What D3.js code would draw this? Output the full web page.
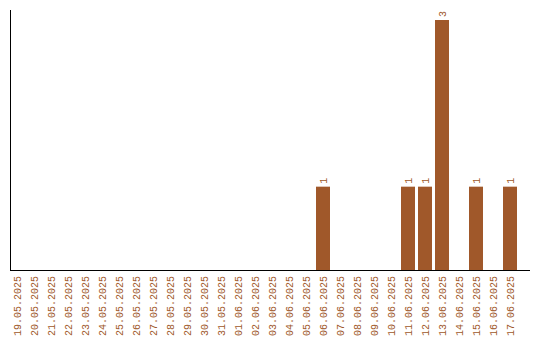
<!DOCTYPE html>
<html>
<head>
<meta charset="utf-8">
<script src="https://cdn.jsdelivr.net/npm/d3@7"></script>
<style>
  body { margin: 0; background: #fff; }
  text { font-family: "Liberation Mono", monospace; font-size: 10px; }
</style>
</head>
<body>
<script>
var dates = [
  '19.05.2025', '20.05.2025', '21.05.2025', '22.05.2025', '23.05.2025',
  '24.05.2025', '25.05.2025', '26.05.2025', '27.05.2025', '28.05.2025',
  '29.05.2025', '30.05.2025', '31.05.2025', '01.06.2025', '02.06.2025',
  '03.06.2025', '04.06.2025', '05.06.2025', '06.06.2025', '07.06.2025',
  '08.06.2025', '09.06.2025', '10.06.2025', '11.06.2025', '12.06.2025',
  '13.06.2025', '14.06.2025', '15.06.2025', '16.06.2025', '17.06.2025'
];
var counts = [
  0, 0, 0, 0, 0, 0, 0, 0, 0, 0,
  0, 0, 0, 0, 0, 0, 0, 0, 1, 0,
  0, 0, 0, 1, 1, 3, 0, 1, 0, 1
];

var width = 540;
var height = 340;
var color = '#a0582a';

var x = d3.scaleBand()
    .domain(dates)
    .range([10, 517])
    .paddingInner(3 / 17)
    .paddingOuter(0);

var y = d3.scaleLinear()
    .domain([0, 3])
    .range([270, 20]);

var svg = d3.select('body')
  .append('svg')
    .attr('width', width)
    .attr('height', height);

// only days with a count get a bar
var barData = dates.map(function(d, i) { return { date: d, value: counts[i] }; })
  .filter(function(d) { return d.value > 0; });

svg.selectAll('rect.bar')
  .data(barData)
  .enter()
  .append('rect')
    .attr('class', 'bar')
    .attr('x', function(d) { return x(d.date); })
    .attr('y', function(d) { return y(d.value); })
    .attr('width', x.bandwidth())
    .attr('height', function(d) { return y(0) - y(d.value); })
    .attr('fill', color);

// value labels, rotated like the dates
svg.selectAll('text.val')
  .data(barData)
  .enter()
  .append('text')
    .attr('class', 'val')
    .attr('transform', function(d) {
      return 'translate(' + (x(d.date) + x.bandwidth() / 2 + 3.5) + ',' + (y(d.value) - 3) + ') rotate(-90)';
    })
    .attr('fill', color)
    .text(function(d) { return d.value; });

// x axis labels
var xAxis = d3.axisBottom(x).tickSize(0).tickPadding(0);
var gx = svg.append('g')
    .attr('transform', 'translate(0,270)')
    .call(xAxis);
gx.select('.domain').remove();
gx.selectAll('text')
    .attr('fill', color)
    .attr('font-family', '"Liberation Mono", monospace')
    .attr('font-size', 10)
    .attr('text-anchor', 'end')
    .attr('dy', null)
    .attr('y', 0)
    .attr('transform', 'translate(3.5,6) rotate(-90)');

// axis lines
svg.append('line')
    .attr('x1', 10.5).attr('x2', 10.5)
    .attr('y1', 10).attr('y2', 270.5)
    .attr('stroke', '#000');
svg.append('line')
    .attr('x1', 10).attr('x2', 530)
    .attr('y1', 270.5).attr('y2', 270.5)
    .attr('stroke', '#000');
</script>
</body>
</html>
